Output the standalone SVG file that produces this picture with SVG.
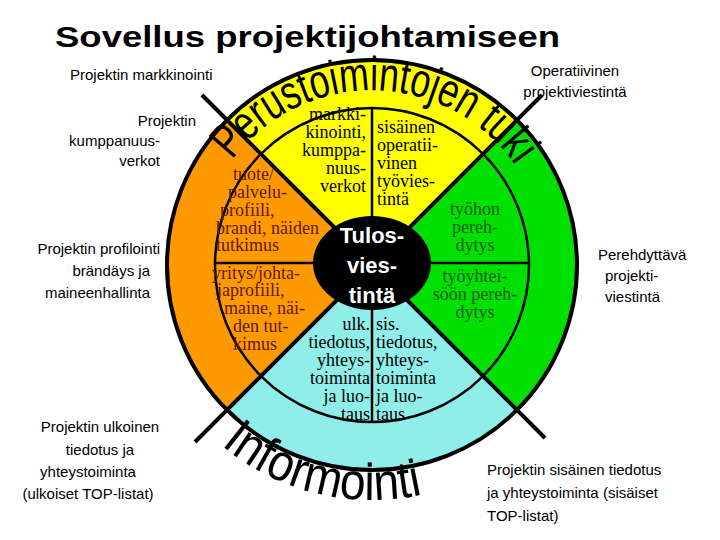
<svg xmlns="http://www.w3.org/2000/svg" width="720" height="540" viewBox="0 0 720 540">
<style>
.l{font-family:"Liberation Sans",Arial,sans-serif;font-size:15px;fill:#000}
.s{font-family:"Liberation Serif","Times New Roman",serif;font-size:18px;fill:#000}
.o{fill:#5a1a00}
.g{fill:#0a5a0a}
.k{stroke:#000;stroke-width:4;fill:none}
.t{stroke:#000;stroke-width:2.5;fill:none}
.big{font-family:"Liberation Sans",Arial,sans-serif;fill:#000}
</style>
<defs>
<path id="arcTop" d="M232,160 A175,175 0 0 1 536,205"/>
<path id="arcBot" d="M221,445 A235,235 0 0 0 452,486"/>
</defs>
<rect width="720" height="540" fill="#fff"/>
<text x="55" y="47" font-family="Liberation Sans,Arial,sans-serif" font-weight="bold" font-size="30" textLength="505" lengthAdjust="spacingAndGlyphs" fill="#000">Sovellus projektijohtamiseen</text>
<g id="wheel">
<path d="M372,265 L227,120 A205,205 0 0 1 517,120 Z" fill="#ffff00"/>
<path d="M372,265 L517,120 A205,205 0 0 1 517,410 Z" fill="#00e000"/>
<path d="M372,265 L517,410 A205,205 0 0 1 227,410 Z" fill="#90eeea"/>
<path d="M372,265 L227,410 A205,205 0 0 1 227,120 Z" fill="#ff9900"/>
<circle cx="372" cy="265" r="205" class="k"/>
<circle cx="372" cy="265" r="157" class="t"/>
<g class="k">
<line x1="202" y1="95" x2="545" y2="438"/>
<line x1="542" y1="95" x2="195" y2="442"/>
</g>
<g class="t">
<line x1="372" y1="108" x2="372" y2="220"/>
<line x1="372" y1="310" x2="372" y2="422"/>
<line x1="215" y1="263" x2="313" y2="263"/>
<line x1="430" y1="263" x2="529" y2="263"/>
</g>
</g>
<g id="center">
<ellipse cx="372" cy="263" rx="59" ry="47" fill="#000"/>
<text font-family="Liberation Sans,Arial,sans-serif" font-weight="bold" font-size="22" fill="#fff" text-anchor="middle"><tspan x="372" y="243">Tulos-</tspan><tspan x="372" y="273">vies-</tspan><tspan x="372" y="303">tintä</tspan></text>
</g>
<g id="top-text">
<text class="s" text-anchor="end"><tspan x="366" y="120">markki-</tspan><tspan x="366" y="138">kinointi,</tspan><tspan x="366" y="156">kumppa-</tspan><tspan x="366" y="174">nuus-</tspan><tspan x="366" y="192">verkot</tspan></text>
<text class="s" text-anchor="start"><tspan x="377" y="133">sisäinen</tspan><tspan x="377" y="151">operatii-</tspan><tspan x="377" y="169">vinen</tspan><tspan x="377" y="187">työvies-</tspan><tspan x="377" y="205">tintä</tspan></text>
</g>
<g id="left-text">
<text class="s o"><tspan x="233" y="180">tuote/</tspan><tspan x="228" y="198">palvelu-</tspan><tspan x="220" y="216">profiili,</tspan><tspan x="216" y="234">brandi, näiden</tspan><tspan x="216" y="251">tutkimus</tspan><tspan x="212" y="279">yritys/johta-</tspan><tspan x="217" y="296">japrofiili,</tspan><tspan x="224" y="314">maine, näi-</tspan><tspan x="233" y="332">den tut-</tspan><tspan x="233" y="350">kimus</tspan></text>
</g>
<g id="right-text">
<text class="s g" text-anchor="middle"><tspan x="475" y="215">työhon</tspan><tspan x="475" y="233">pereh-</tspan><tspan x="475" y="251">dytys</tspan><tspan x="475" y="282">työyhtei-</tspan><tspan x="475" y="300">söön pereh-</tspan><tspan x="475" y="318">dytys</tspan></text>
</g>
<g id="bottom-text">
<text class="s" text-anchor="end"><tspan x="370" y="330">ulk.</tspan><tspan x="370" y="348">tiedotus,</tspan><tspan x="370" y="366">yhteys-</tspan><tspan x="370" y="384">toiminta</tspan><tspan x="370" y="402">ja luo-</tspan><tspan x="370" y="420">taus</tspan></text>
<text class="s" text-anchor="start"><tspan x="376" y="330">sis.</tspan><tspan x="376" y="348">tiedotus,</tspan><tspan x="376" y="366">yhteys-</tspan><tspan x="376" y="384">toiminta</tspan><tspan x="376" y="402">ja luo-</tspan><tspan x="376" y="420">taus</tspan></text>
</g>
<g id="ring-text">
<text class="big" font-size="48"><textPath href="#arcTop" textLength="330" lengthAdjust="spacingAndGlyphs">Perustoimintojen tuki</textPath></text>
<text class="big" font-size="52"><textPath href="#arcBot" textLength="215" lengthAdjust="spacingAndGlyphs">Informointi</textPath></text>
</g>
<g id="labels">
<text x="70" y="80" class="l">Projektin markkinointi</text>
<text class="l" text-anchor="end"><tspan x="196" y="126">Projektin</tspan><tspan x="160" y="146">kumppanuus-</tspan><tspan x="160" y="166">verkot</tspan></text>
<text class="l" text-anchor="end"><tspan x="160" y="254">Projektin profilointi</tspan><tspan x="150" y="276">brändäys ja</tspan><tspan x="150" y="298">maineenhallinta</tspan></text>
<text class="l" text-anchor="middle"><tspan x="100" y="432">Projektin ulkoinen</tspan><tspan x="100" y="455">tiedotus ja</tspan><tspan x="88" y="477">yhteystoiminta</tspan><tspan x="88" y="499">(ulkoiset TOP-listat)</tspan></text>
<text class="l" text-anchor="middle"><tspan x="575" y="76">Operatiivinen</tspan><tspan x="575" y="97">projektiviestintä</tspan></text>
<text class="l"><tspan x="598" y="260">Perehdyttävä</tspan><tspan x="605" y="281">projekti-</tspan><tspan x="605" y="302">viestintä</tspan></text>
<text class="l"><tspan x="487" y="475">Projektin sisäinen tiedotus</tspan><tspan x="487" y="498">ja yhteystoiminta (sisäiset</tspan><tspan x="487" y="521">TOP-listat)</tspan></text>
</g>
</svg>
